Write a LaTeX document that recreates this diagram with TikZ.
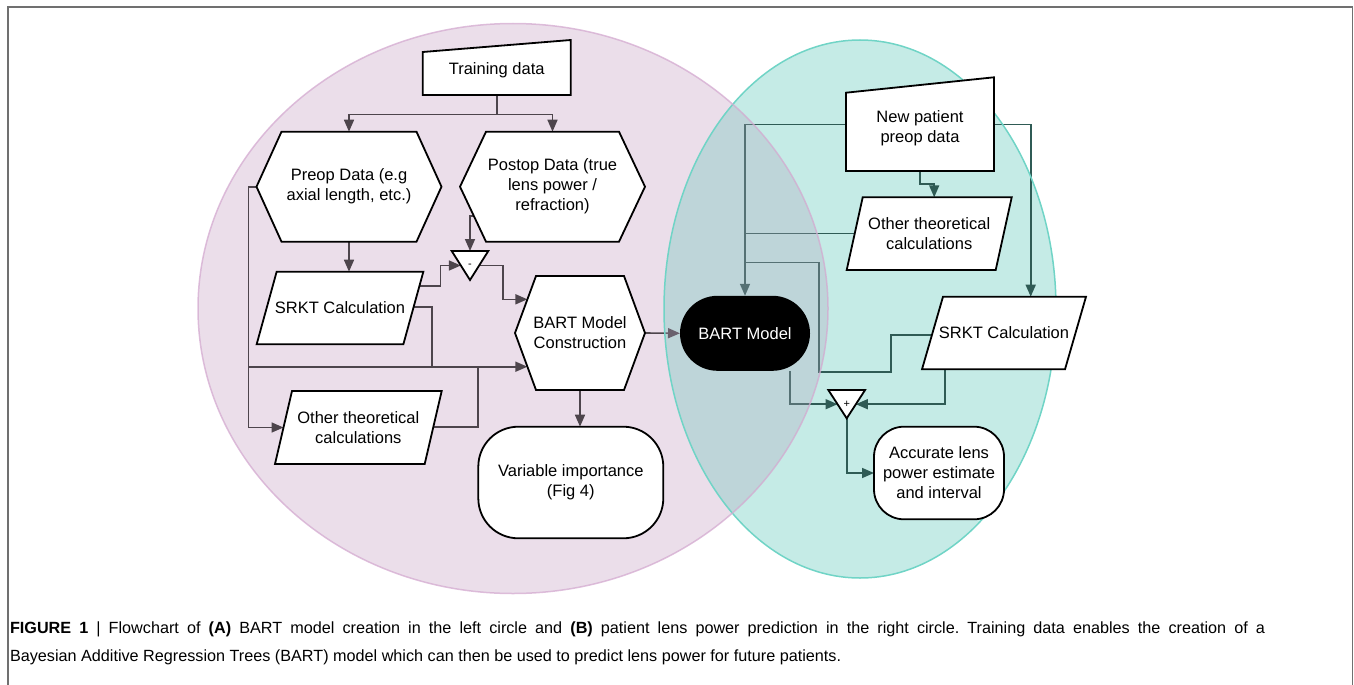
\documentclass[tikz,border=0pt]{standalone}
\usepackage{fontspec}
\setmainfont{Liberation Sans}
\usetikzlibrary{arrows.meta,calc}
\frenchspacing

\definecolor{pinkfill}{RGB}{235,222,234}
\definecolor{pinkedge}{RGB}{212,170,208}
\definecolor{tealfill}{RGB}{197,235,230}
\definecolor{tealedge}{RGB}{112,212,198}
\definecolor{veilc}{RGB}{175,165,190}
\definecolor{lgray}{RGB}{77,69,76}
\definecolor{rteal}{RGB}{47,91,85}
\definecolor{framec}{RGB}{112,112,112}

\pgfdeclarelayer{back}
\pgfdeclarelayer{lines}
\pgfdeclarelayer{veil}
\pgfdeclarelayer{shapes}
\pgfsetlayers{back,lines,veil,shapes,main}

\begin{document}
\begin{tikzpicture}[x=1pt, y=-1pt,
    every node/.style={font=\fontsize{16.5pt}{20pt}\selectfont, align=center, inner sep=0pt, outer sep=0pt},
    larr/.style={draw=lgray, line width=1.6pt, -{Triangle[length=12pt,width=10pt]}},
    lline/.style={draw=lgray, line width=1.6pt},
    rarr/.style={draw=rteal, line width=1.6pt, -{Triangle[length=12pt,width=10pt]}},
    rline/.style={draw=rteal, line width=1.6pt},
    outl/.style={fill=white, draw=black, line width=1.8pt},
    term/.style={draw=black, fill=white, line width=1.8pt, rounded corners=#1},
    captext/.style={anchor=base west, font=\fontsize{16.2pt}{20pt}\selectfont}]

   \useasboundingbox (0,0) rectangle (1354,685);
   \draw[framec, line width=1.5pt] (8,700) -- (8,7) -- (1352.5,7) -- (1352.5,700);

   % the two circles
   \begin{pgfonlayer}{back}
   \fill[pinkfill] (513,308.5) ellipse [x radius=315pt, y radius=285pt];
   \fill[tealfill] (860,309) ellipse [x radius=196pt, y radius=269pt];
   \end{pgfonlayer}
   \begin{pgfonlayer}{veil}
   \begin{scope}
     \clip (513,308.5) ellipse [x radius=315pt, y radius=285pt];
     \fill[veilc, opacity=0.3] (860,309) ellipse [x radius=196pt, y radius=269pt];
   \end{scope}
   \draw[tealedge, line width=1.5pt] (860,309) ellipse [x radius=196pt, y radius=269pt];
   \draw[pinkedge, line width=1.5pt, opacity=0.75] (513,308.5) ellipse [x radius=315pt, y radius=285pt];
   \end{pgfonlayer}

   % (A) model creation
   \node[minimum width=148pt, minimum height=49pt] (train) at (496.7,70.5) {Training data};
   \node[minimum width=185pt, minimum height=110pt] (preop) at (349,186.7) {Preop Data (e.g\\axial length, etc.)};
   \node[minimum width=185pt, minimum height=110pt] (postop) at (552.5,186.7) {Postop Data (true\\lens power /\\refraction)};
   \node[minimum width=36.6pt, minimum height=29pt, font=\fontsize{11pt}{12pt}\selectfont] (minus) at (470,265.5) {-};
   \node[minimum width=166.7pt, minimum height=72.6pt] (srkt) at (340,308) {SRKT Calculation};
   \node[minimum width=130pt, minimum height=114pt] (bartc) at (580,333) {BART Model\\Construction};
   \node[minimum width=166.7pt, minimum height=73pt] (otherL) at (358.35,427.5) {Other theoretical\\calculations};
   \node[term=40pt, minimum width=185pt, minimum height=111.6pt] (varimp) at (570.8,482.5) {Variable importance\\(Fig 4)};
   \coordinate (ljoin) at (248.3,366.7);

   % (B) prediction
   \node[minimum width=148pt, minimum height=86pt] (newpat) at (920,128) {New patient\\preop data};
   \node[minimum width=165pt, minimum height=72.7pt] (otherR) at (929.2,233.65) {Other theoretical\\calculations};
   \node[fill=black, text=white, rounded corners=37.5pt, minimum width=130pt, minimum height=75pt] (bartm) at (745,333.3) {BART Model};
   \node[minimum width=164pt, minimum height=72.6pt] (srktR) at (1004,333) {SRKT Calculation};
   \node[minimum width=36.7pt, minimum height=28.3pt, font=\fontsize{11pt}{12pt}\selectfont] (plus) at (846.7,404.2) {+};
   \node[term=30pt, minimum width=130pt, minimum height=92.6pt] (accur) at (939,473) {Accurate lens\\power estimate\\and interval};

   % node outlines
   \begin{pgfonlayer}{shapes}
   \foreach \n/\d in {preop/25,postop/26,bartc/21}
     \filldraw[outl] (\n.west) -- ($(\n.north west)+(\d,0)$) -- ($(\n.north east)+(-\d,0)$) -- (\n.east)
       -- ($(\n.south east)+(-\d,0)$) -- ($(\n.south west)+(\d,0)$) -- cycle;
   \foreach \n/\d in {srkt/20,otherL/17,otherR/16,srktR/21}
     \filldraw[outl] (\n.south west) -- ($(\n.north west)+(\d,0)$) -- (\n.north east) -- ($(\n.south east)+(-\d,0)$) -- cycle;
   \foreach \n/\d in {train/6,newpat/7.7}
     \filldraw[outl] (\n.south west) -- ($(\n.north west)+(0,\d)$) -- ($(\n.north east)+(0,-\d)$) -- (\n.south east) -- cycle;
   \foreach \n in {minus,plus}
     \filldraw[outl] (\n.north west) -- (\n.north east) -- (\n.south) -- cycle;
   \end{pgfonlayer}

   % connectors
   \begin{pgfonlayer}{lines}
   \draw[larr] (train.south) -- ++(0,19.3) -| (preop.north);
   \draw[larr] (train.south) -- ++(0,19.3) -| (postop.north);
   \draw[larr] ($(postop.west)+(14,29.3)$) -| (minus.north);
   \draw[larr] (preop.south) -- (preop.south |- srkt.north);
   \draw[larr] ($(srkt.north east)+(-4,14.3)$) -- ++(21.3,0) |- ($(minus.north west)!0.5!(minus.south)$);
   \draw[larr] ($(minus.north east)!0.5!(minus.south)$) -- ++(24,0) |- ($(bartc.west)+(12.4,-33.7)$);
   \draw[lline] ($(srkt.north east)+(-9.6,35)$) -- ++(18,0) -- ++(0,60);
   \draw[larr] (preop.west) -- ++(-8.2,0) |- ($(otherL.west)+(8.5,0)$);
   \draw[larr] (ljoin) -- ($(bartc.west)+(12.4,33.7)$);
   \draw[lline] ($(otherL.east)+(-8.5,-0.8)$) -- ++(45,0) -- ++(0,-60);
   \draw[larr] (bartc.east) -- (bartm.west);
   \draw[larr] (bartc.south) -- (bartc.south |- varimp.north);

   \draw[rarr] ($(newpat.west)+(0,-3.7)$) -| (bartm.north);
   \draw[rarr] ($(newpat.east)+(0,-3.7)$) -| ($(srktR.north)+(26.7,0)$);
   \draw[rarr] (newpat.south) -- ++(0,13) -| ($(otherR.north)+(5,0)$);
   \draw[rline] ($(otherR.west)+(8,0)$) -- (otherR.west -| bartm.north);
   \draw[rline] ($(bartm.north)+(0,-33.5)$) -- ++(74,0) -- ++(0,109.4) -- ++(71.7,0) -- ++(0,-36.7) -- ($(srktR.west)+(10.5,2)$);
   \draw[rarr] ($(bartm.south)+(45,0)$) |- ($(plus.north west)!0.5!(plus.south)$);
   \draw[rarr] ($(srktR.south)+(-59,0)$) |- ($(plus.north east)!0.5!(plus.south)$);
   \draw[rarr] (plus.south) |- (accur.west);
   \end{pgfonlayer}

   % caption
   \node[captext] (cap1) at (10,633)
     {\makebox[1255pt][s]{\textbf{FIGURE 1} | Flowchart of \textbf{(A)} BART model creation in the left circle and \textbf{(B)} patient lens power prediction in the right circle. Training data enables the creation of a}};
   \node[captext] (cap2) at (10,661)
     {Bayesian Additive Regression Trees (BART) model which can then be used to predict lens power for future patients.};

\end{tikzpicture}
\end{document}
